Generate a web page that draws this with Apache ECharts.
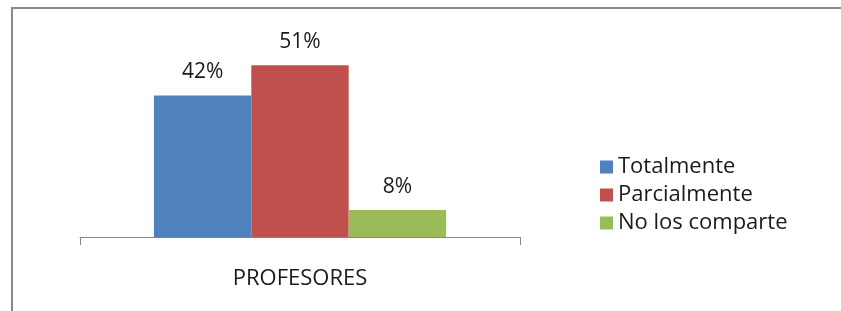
<!DOCTYPE html>
<html>
<head>
<meta charset="utf-8">
<script src="https://cdn.jsdelivr.net/npm/echarts@6/dist/echarts.min.js"></script>
<style>
  html, body { margin: 0; padding: 0; background: #fff; }
  #chart { width: 841px; height: 311px; }
</style>
</head>
<body>
<div id="chart"></div>
<script>
var categories = ['PROFESORES'];
var totalmente = [42];
var parcialmente = [51];
var noLosComparte = [8];

var font = '"Open Sans", sans-serif';

var myChart = echarts.init(document.getElementById('chart'));

function barLabel() {
    return {
        show: true,
        position: 'top',
        distance: 13,
        formatter: '{c}%',
        fontFamily: font,
        fontSize: 21,
        color: '#1a1a1a'
    };
}

var option = {
    animation: false,
    grid: {
        left: 80,
        right: 321,
        top: 35,
        bottom: 74
    },
    legend: {
        orient: 'vertical',
        left: 595,
        top: 151,
        itemWidth: 13,
        itemHeight: 13,
        itemGap: 6,
        icon: 'rect',
        textStyle: {
            fontFamily: font,
            fontSize: 22,
            color: '#1a1a1a'
        },
        data: ['Totalmente', 'Parcialmente', 'No los comparte']
    },
    xAxis: {
        type: 'category',
        data: categories,
        boundaryGap: true,
        axisLine: {
            lineStyle: { color: '#868686', width: 1 }
        },
        axisTick: {
            show: true,
            length: 8,
            lineStyle: { color: '#868686' }
        },
        axisLabel: {
            margin: 31,
            fontFamily: font,
            fontSize: 22,
            color: '#1a1a1a'
        }
    },
    yAxis: {
        type: 'value',
        min: 0,
        max: 60,
        show: false
    },
    graphic: [
        {
            type: 'polyline',
            shape: { points: [[12, 311], [12, 8], [841, 8]] },
            style: { stroke: '#888', lineWidth: 2, fill: null }
        }
    ],
    series: [
        {
            type: 'bar',
            name: 'Totalmente',
            barGap: 0,
            barCategoryGap: '33.6%',
            itemStyle: { color: '#4F81BD' },
            label: barLabel(),
            data: totalmente
        },
        {
            type: 'bar',
            name: 'Parcialmente',
            barGap: 0,
            barCategoryGap: '33.6%',
            itemStyle: { color: '#C0504D' },
            label: barLabel(),
            data: parcialmente
        },
        {
            type: 'bar',
            name: 'No los comparte',
            barGap: 0,
            barCategoryGap: '33.6%',
            itemStyle: { color: '#9BBB59' },
            label: barLabel(),
            data: noLosComparte
        }
    ]
};

myChart.setOption(option);
</script>
</body>
</html>
